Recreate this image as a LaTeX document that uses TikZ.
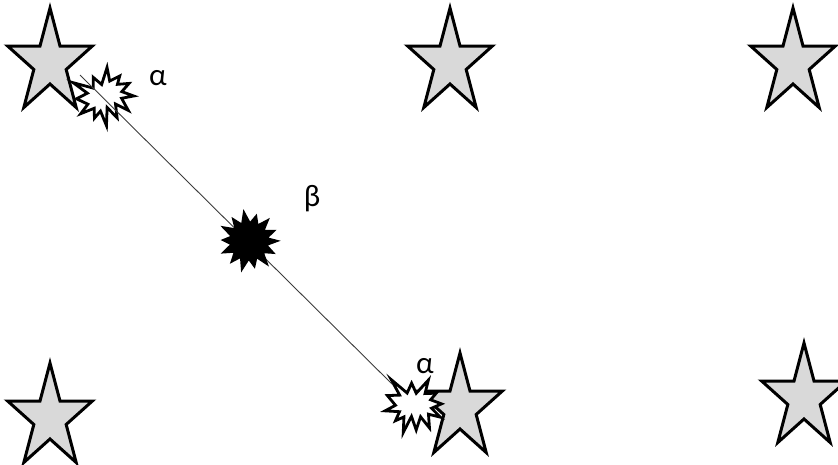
\documentclass[tikz,border=0pt]{standalone}
\usepackage{fontspec}
\setmainfont{Carlito}
\definecolor{starfill}{RGB}{217,217,217}
\definecolor{linegray}{RGB}{60,60,60}
\tikzset{
  starline/.style={draw=black,line width=3pt,fill=starfill,line join=miter},
  burstline/.style={draw=black,line width=2.8pt,line join=miter},
  lbl/.style={font=\fontsize{31}{34}\selectfont,inner sep=0pt},
  conn/.style={draw=linegray,line width=0.9pt},
  pics/gstar/.style={code={
    \path[starline,xscale=0.81]
      (-90:55) -- (-54:21) -- (-18:55) -- (18:21) -- (54:55) -- (90:21)
      -- (126:55) -- (162:21) -- (198:55) -- (234:21) -- cycle;}},
  pics/burst/.style={code={
    \path[burstline,#1,scale=0.56]
      (0,-23.1) -- (17.2,-50) -- (15.5,-25.3) -- (35.1,-29.4) -- (27.3,-16.1)
      -- (47.7,-12.3) -- (31.5,-1.5) -- (50,11.5) -- (28,9.9) -- (34,33.8)
      -- (14.9,16.9) -- (11.3,41.4) -- (-1.2,19.1) -- (-10.7,50) -- (-14.3,22.3)
      -- (-28,31.6) -- (-23.8,14.5) -- (-49.4,17.5) -- (-32.8,4.5) -- (-50,-10.1)
      -- (-28.6,-14.7) -- (-48.3,-39.4) -- (-16.1,-20.7) -- (-11.3,-39.4) -- cycle;}},
  pics/roundburst/.style={code={
    \path[burstline,fill=black]
      (0:27) -- (13:17) -- (26:26) -- (39:17) -- (52:28) -- (65:17) -- (78:25)
      -- (91:17) -- (104:28) -- (117:17) -- (130:26) -- (143:17) -- (156:27)
      -- (169:17) -- (182:25) -- (195:17) -- (208:28) -- (221:17) -- (234:26)
      -- (247:17) -- (260:28) -- (273:17) -- (286:25) -- (299:17) -- (312:27)
      -- (325:17) -- (338:26) -- (351:17) -- cycle;}}
}
\begin{document}
\begin{tikzpicture}[x=1pt,y=-1pt]
\useasboundingbox (0,0) rectangle (838,464);
% stars
\coordinate (s1) at (50,63);
\coordinate (s2) at (450,63);
\coordinate (s3) at (793,63);
\coordinate (s4) at (50,418);
\coordinate (s5) at (460,408);
\coordinate (s6) at (804,398);
\foreach \s in {s1,s2,s3,s4,s5,s6} { \pic at (\s) {gstar}; }
% bursts
\coordinate (b1) at (105,97);
\coordinate (b2) at (249,241);
\coordinate (b3) at (414,406);
\pic[rotate=15] at (b1) {burst={fill=white}};
\pic[rotate=-10] at (b3) {burst={fill=white}};
% connector
\coordinate (l1) at (80,75);
\coordinate (l2) at (392,384);
\draw[conn] (l1) -- (l2);
\pic at (b2) {roundburst};
% labels
\node[lbl] (a1) at (158,78) {α};
\node[lbl] (be) at (312,199) {β};
\node[lbl] (a2) at (425,366) {α};
\end{tikzpicture}
\end{document}
